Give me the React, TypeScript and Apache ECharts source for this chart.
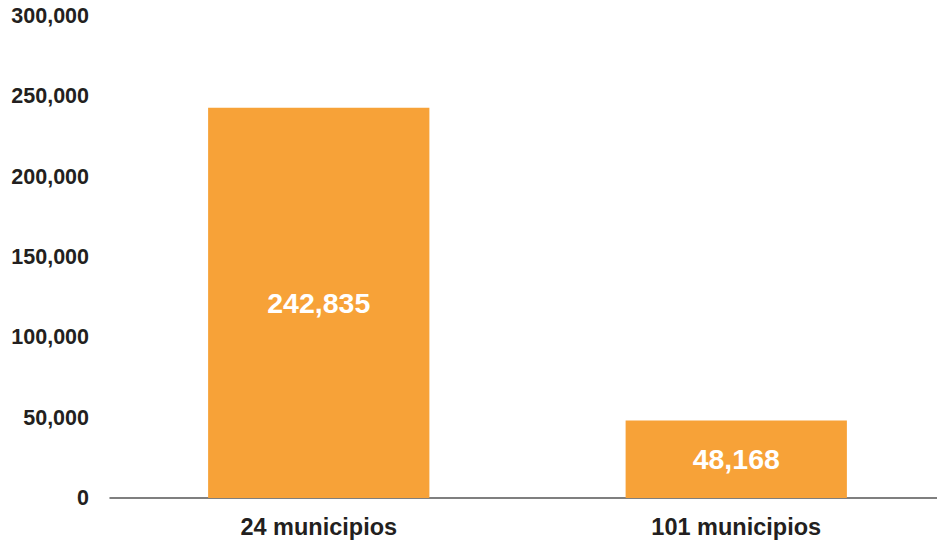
import React, { useEffect, useRef } from "react";
import * as echarts from "echarts";

const categories = ["24 municipios", "101 municipios"];
const values = [242835, 48168];
const yTicks = { min: 0, max: 300000, interval: 50000 };

const fmt = (v: number) => v.toLocaleString("en-US");

export default function App() {
  const ref = useRef<HTMLDivElement>(null);
  useEffect(() => {
    if (!ref.current) return;
    const chart = echarts.init(ref.current, undefined, { renderer: "svg" });
    chart.setOption({
      animation: false,
      backgroundColor: "#ffffff",
      grid: { left: 110, right: 5, top: 16, bottom: 44, containLabel: false },
      xAxis: {
        type: "category",
        data: categories,
        axisLine: { show: true, lineStyle: { color: "#555555", width: 1.5 } },
        axisTick: { show: false },
        axisLabel: {
          color: "#231F20",
          fontFamily: "Liberation Sans, Arial, sans-serif",
          fontWeight: "bold",
          fontSize: 23.5,
          margin: 17,
        },
      },
      yAxis: {
        type: "value",
        min: yTicks.min,
        max: yTicks.max,
        interval: yTicks.interval,
        splitLine: { show: false },
        axisLine: { show: false },
        axisTick: { show: false },
        axisLabel: {
          color: "#231F20",
          fontFamily: "Liberation Sans, Arial, sans-serif",
          fontWeight: "bold",
          fontSize: 21.5,
          margin: 21,
          formatter: (v: number) => fmt(v),
        },
      },
      series: [
        {
          type: "bar",
          data: values,
          barWidth: "53%",
          itemStyle: { color: "#F7A238" },
          label: {
            show: true,
            position: "inside",
            color: "#ffffff",
            fontFamily: "Liberation Sans, Arial, sans-serif",
            fontWeight: "bold",
            fontSize: 28.5,
            formatter: (p: any) => fmt(p.value),
          },
        },
      ],
    });
    return () => chart.dispose();
  }, []);
  return (
    <div
      style={{ position: "fixed", left: 0, top: 0, width: 937, height: 542, overflow: "hidden", background: "#fff" }}
    >
      <div ref={ref} style={{ width: 950, height: 542 }} />
    </div>
  );
}
